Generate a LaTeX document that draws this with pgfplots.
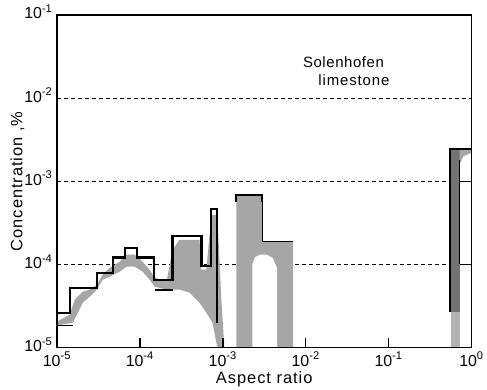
\documentclass[border=0pt]{standalone}
\usepackage{fontspec}
\setmainfont{Liberation Sans}
\usepackage{pgfplots}
\pgfplotsset{compat=1.18}
\newfontfamily\lblfont[LetterSpace=6]{Liberation Sans}
\newfontfamily\txtfont[LetterSpace=4]{Liberation Sans}
\newfontfamily\txtfontb[LetterSpace=6]{Liberation Sans}
\begin{document}
\begin{tikzpicture}
\begin{axis}[
  xmode=log, ymode=log,
  scale only axis, width=415bp, height=333bp,
  xmin=1e-5, xmax=1, ymin=1e-5, ymax=1e-1,
  axis on top,
  axis line style={line width=1.6bp},
  xtick={1e-5,1e-4,1e-3,1e-2,1e-1,1},
  xticklabels={10\textsuperscript{-5},10\textsuperscript{-4},10\textsuperscript{-3},10\textsuperscript{-2},10\textsuperscript{-1},10\textsuperscript{0}},
  ytick={1e-5,1e-4,1e-3,1e-2,1e-1},
  yticklabels={10\textsuperscript{-5},10\textsuperscript{-4},10\textsuperscript{-3},10\textsuperscript{-2},10\textsuperscript{-1}},
  xminorticks=false, yminorticks=false,
  xtick pos=bottom, ytick pos=left,
  tick align=inside,
  major tick length=10bp,
  xtick style={line width=1.6bp, black},
  ytick style={draw=none},
  tick label style={font=\fontsize{16}{18}\selectfont},
  yticklabel style={yshift=3bp, xshift=-1bp},
  xticklabel style={yshift=-1bp},
  xlabel={Aspect ratio}, ylabel={Concentration ,\%},
  label style={font=\lblfont\fontsize{16.5}{18}\selectfont},
  xlabel style={yshift=2bp},
  ylabel style={yshift=-7bp},
]
% dashed reference lines
\addplot[black, line width=0.8bp, dash pattern=on 4bp off 3bp] coordinates {(1e-5,1e-2) (1,1e-2)};
\addplot[black, line width=0.8bp, dash pattern=on 4bp off 3bp] coordinates {(1e-5,1e-3) (0.545,1e-3)};
\addplot[black, line width=0.8bp, dash pattern=on 4bp off 3bp] coordinates {(1e-5,1e-4) (0.545,1e-4)};
% left band
\addplot[fill=black!35, draw=none] coordinates {
 (1e-5,2.05e-5) (1.43e-5,2.49e-5) (1.64e-5,3.78e-5) (2.05e-5,4.71e-5) (2.49e-5,4.98e-5)
 (3.03e-5,5.71e-5) (3.57e-5,7.53e-5) (4.34e-5,9.14e-5) (5.72e-5,1.08e-4) (6.94e-5,1.31e-4)
 (8.66e-5,1.31e-4) (1.08e-4,1.08e-4) (1.31e-4,8.65e-5) (1.51e-4,6.93e-5) (2.10e-4,6.21e-5)
 (2.48e-4,1.50e-4) (3.01e-4,1.98e-4) (5.24e-4,1.98e-4) (5.53e-4,8.65e-5) (6.35e-4,8.65e-5)
 (7.29e-4,3.96e-4) (8.61e-4,3.96e-4) (9.62e-4,3.78e-5) (1.045e-3,1e-5)
 (8.61e-4,1e-5) (7.50e-4,2.0e-5) (6.35e-4,2.63e-5) (5.24e-4,3.47e-5) (3.97e-4,4.58e-5)
 (3.01e-4,4.98e-5) (2.10e-4,4.98e-5) (1.51e-4,5.41e-5) (1.31e-4,6.56e-5) (1.08e-4,8.19e-5)
 (8.66e-5,9.40e-5) (6.94e-5,9.40e-5) (5.72e-5,8.19e-5) (4.34e-5,7.13e-5) (3.57e-5,6.56e-5)
 (3.03e-5,4.98e-5) (2.49e-5,4.10e-5) (2.05e-5,3.47e-5) (1.79e-5,2.63e-5) (1.56e-5,2.0e-5)
 (1e-5,1.84e-5)} -- cycle;
% left upper step outline
\addplot[black, line width=2.2bp] coordinates {
 (1e-5,2.63e-5) (1.43e-5,2.63e-5) (1.43e-5,5.26e-5) (3.03e-5,5.26e-5) (3.03e-5,7.96e-5)
 (4.71e-5,7.96e-5) (4.71e-5,1.21e-4) (6.57e-5,1.21e-4) (6.57e-5,1.59e-4) (9.15e-5,1.59e-4)
 (9.15e-5,1.21e-4) (1.47e-4,1.21e-4) (1.47e-4,6.56e-5) (2.48e-4,6.56e-5) (2.48e-4,2.21e-4)
 (5.53e-4,2.21e-4) (5.53e-4,9.66e-5) (7.29e-4,9.66e-5) (7.29e-4,4.68e-4) (8.61e-4,4.68e-4)
 (8.61e-4,2.0e-5)};
\addplot[black, line width=1.8bp] coordinates {(1e-5,1.84e-5) (1.56e-5,1.84e-5)};
\addplot[black, line width=1.8bp] coordinates {(1.51e-4,4.98e-5) (2.48e-4,4.98e-5)};
% middle feature
\addplot[fill=black!35, draw=none] coordinates {
 (1.46e-3,1e-5) (1.46e-3,6.89e-4) (2.99e-3,6.89e-4) (2.99e-3,1.87e-4)
 (7.06e-3,1.87e-4) (7.06e-3,1e-5)} -- cycle;
\addplot[fill=white, draw=none] coordinates {
 (2.27e-3,1e-5) (2.27e-3,1.0e-4) (2.45e-3,1.22e-4) (2.8e-3,1.31e-4) (3.4e-3,1.31e-4)
 (4.0e-3,1.2e-4) (4.53e-3,9.0e-5) (4.53e-3,1e-5)} -- cycle;
\addplot[black, line width=2.2bp] coordinates {
 (1.46e-3,5.6e-4) (1.46e-3,6.89e-4) (2.99e-3,6.89e-4) (2.99e-3,5.6e-4)};
\addplot[black, line width=0.9bp] coordinates {
 (2.99e-3,5.6e-4) (2.99e-3,1.87e-4) (7.06e-3,1.87e-4)};
% right feature
\addplot[fill=black!55, draw=none] coordinates {
 (0.545,2.7e-5) (0.545,2.45e-3) (0.718,2.45e-3) (0.718,2.7e-5)} -- cycle;
\addplot[fill=black!30, draw=none] coordinates {
 (0.56,1e-5) (0.56,2.7e-5) (0.718,2.7e-5) (0.718,1e-5)} -- cycle;
\addplot[fill=black!35, draw=none] coordinates {
 (0.718,2.45e-3) (1,2.45e-3) (1,2.2e-3) (0.8,2.0e-3) (0.718,1.6e-3)} -- cycle;
\addplot[black, line width=1.8bp] coordinates {
 (0.545,2.7e-5) (0.545,2.45e-3) (1,2.45e-3)};
\addplot[black, line width=1bp] coordinates {(0.718,1.8e-3) (0.718,1e-4)};
\addplot[black, line width=1bp] coordinates {(0.718,1e-3) (1,1e-3)};
\addplot[black, line width=1bp] coordinates {(0.718,1e-4) (1,1e-4)};
\node[anchor=base, font=\txtfont\fontsize{15}{18}\selectfont] at (axis cs:0.0286,0.02307) {Solenhofen};
\node[anchor=base, font=\txtfontb\fontsize{15}{18}\selectfont] at (axis cs:0.0382,0.01403) {limestone};
\end{axis}
\path (current axis.south west) ++(-57bp,-42bp);
\path (current axis.north east) ++(15bp,15bp);
\end{tikzpicture}
\end{document}
